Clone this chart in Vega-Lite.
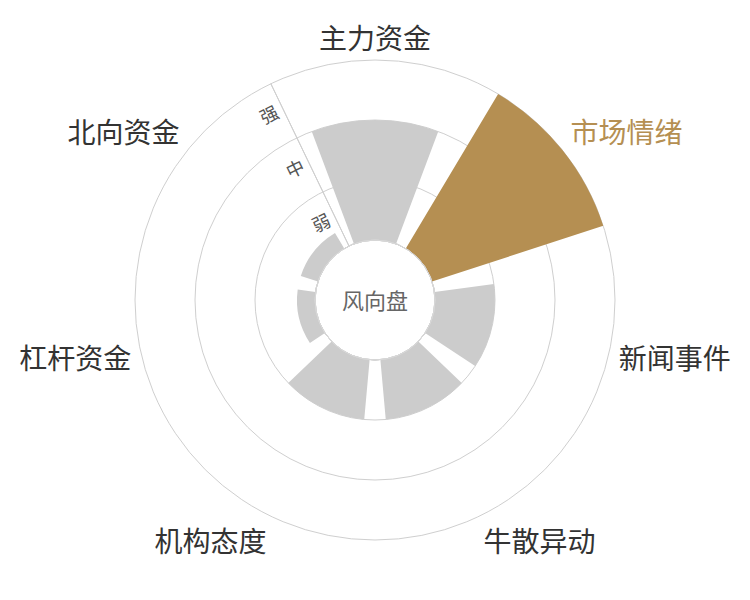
{
  "$schema": "https://vega.github.io/schema/vega-lite/v6.json",
  "width": 750,
  "height": 600,
  "padding": 0,
  "autosize": {"type": "none"},
  "background": "#ffffff",
  "config": {"view": {"stroke": null}, "font": "Noto Sans CJK SC"},
  "datasets": {
    "cats": [
      {"idx": 0, "cat": "主力资金", "value": 2.0},
      {"idx": 1, "cat": "市场情绪", "value": 3.0},
      {"idx": 2, "cat": "新闻事件", "value": 1.0},
      {"idx": 3, "cat": "牛散异动", "value": 1.0},
      {"idx": 4, "cat": "机构态度", "value": 1.0},
      {"idx": 5, "cat": "杠杆资金", "value": 0.3},
      {"idx": 6, "cat": "北向资金", "value": 0.3}
    ],
    "levels": [
      {"level": "弱", "v": 1},
      {"level": "中", "v": 2},
      {"level": "强", "v": 3}
    ],
    "center": [{"label": "风向盘", "v": 0}]
  },
  "resolve": {"scale": {"theta": "independent"}},
  "layer": [
    {
      "data": {"name": "levels"},
      "mark": {"type": "arc", "theta": 0, "theta2": 6.2832, "fill": "#ffffff", "fillOpacity": 0, "stroke": "#cfcfcf", "strokeWidth": 1},
      "encoding": {
        "radius": {"field": "v", "type": "quantitative", "stack": null, "scale": {"type": "linear", "domain": [0, 3], "range": [60, 240], "zero": false, "nice": false}}
      }
    },
    {
      "data": {"name": "levels"},
      "transform": [{"filter": "datum.level === '强'"}],
      "mark": {"type": "arc", "stroke": "#cfcfcf", "strokeWidth": 1, "fillOpacity": 0},
      "encoding": {
        "theta": {"datum": 0, "type": "quantitative", "scale": {"domain": [0, 7], "range": [-0.4488, 5.8344], "zero": false, "nice": false}},
        "theta2": {"datum": 0},
        "radius": {"datum": 3, "type": "quantitative"},
        "radius2": {"datum": 0}
      }
    },
    {
      "data": {"name": "cats"},
      "mark": {"type": "arc", "thetaOffset": 0.0898, "theta2Offset": 0.8078, "stroke": null},
      "encoding": {
        "theta": {"field": "idx", "type": "quantitative", "stack": null, "scale": {"domain": [0, 7], "range": [-0.4488, 5.8344], "zero": false, "nice": false}},
        "theta2": {"field": "idx"},
        "radius": {"field": "value", "type": "quantitative", "stack": null},
        "radius2": {"datum": 0},
        "color": {"condition": {"test": "datum.cat === '市场情绪'", "value": "#b58f52"}, "value": "#cccccc"}
      }
    },
    {
      "data": {"name": "center"},
      "mark": {"type": "arc", "theta": 0, "theta2": 6.2832, "fill": "#ffffff", "stroke": "#d8d8d8", "strokeWidth": 1},
      "encoding": {
        "radius": {"field": "v", "type": "quantitative", "stack": null}
      }
    },
    {
      "data": {"name": "levels"},
      "mark": {"type": "text", "fontSize": 18, "color": "#555555", "angle": 334.3, "dx": -15, "radiusOffset": -29, "align": "center", "baseline": "middle"},
      "encoding": {
        "theta": {"datum": 0, "type": "quantitative", "scale": {"domain": [0, 7], "range": [-0.4488, 5.8344], "zero": false, "nice": false}},
        "radius": {"field": "v", "type": "quantitative", "stack": null},
        "text": {"field": "level"}
      }
    },
    {
      "data": {"name": "cats"},
      "mark": {
        "type": "text",
        "fontSize": 28,
        "radiusOffset": 10,
        "dy": 5,
        "align": {"expr": "indexof(['市场情绪','新闻事件','牛散异动'], datum.cat) >= 0 ? 'left' : (datum.cat === '主力资金' ? 'center' : 'right')"},
        "baseline": {"expr": "indexof(['主力资金','市场情绪','北向资金'], datum.cat) >= 0 ? 'bottom' : (indexof(['新闻事件','杠杆资金'], datum.cat) >= 0 ? 'middle' : 'top')"}
      },
      "encoding": {
        "theta": {"field": "idx", "type": "quantitative", "stack": null, "scale": {"domain": [0, 7], "range": [0, 6.2832], "zero": false, "nice": false}},
        "radius": {"datum": 3, "type": "quantitative"},
        "text": {"field": "cat"},
        "color": {"condition": {"test": "datum.cat === '市场情绪'", "value": "#b58f52"}, "value": "#333333"}
      }
    },
    {
      "data": {"name": "center"},
      "mark": {"type": "text", "fontSize": 22, "color": "#666666", "align": "center", "baseline": "middle", "dy": 2},
      "encoding": {
        "text": {"field": "label"}
      }
    }
  ]
}
